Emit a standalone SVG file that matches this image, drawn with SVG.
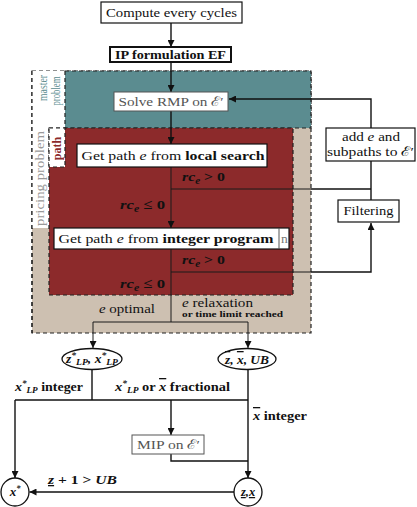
<svg xmlns="http://www.w3.org/2000/svg" width="417" height="507" viewBox="0 0 417 507" font-family="'Liberation Serif', 'DejaVu Serif', serif">
<style>
text{font-family:"Liberation Serif","DejaVu Serif",serif;fill:#111}
.t{font-size:13.5px}
.g{fill:#555}
.b{font-weight:bold}
.i{font-style:italic}
.bi{font-weight:bold;font-style:italic}
.box{fill:#fff;stroke:#111;stroke-width:1.2}
.gbox{fill:#fff;stroke:#555;stroke-width:1}
.dash{stroke:#222;stroke-width:1.2;stroke-dasharray:4 3}
.c{fill:none;stroke:#111;stroke-width:1.4}
.ci{fill:none;stroke:#1a1a1a;stroke-width:1}
.a{marker-end:url(#ah)}
.ov{text-decoration:overline}
.ul{text-decoration:underline}
.sup{font-size:8.5px}
</style>
<defs>
<marker id="ah" viewBox="0 0 10 10" refX="10" refY="5" markerWidth="7" markerHeight="7" markerUnits="userSpaceOnUse" orient="auto">
<path d="M0,0 L10,5 L0,10 z" fill="#111"/>
</marker>
</defs>

<g id="regions">
<rect x="32" y="71" width="279" height="262" fill="#cdc0b1" class="dash"/>
<rect x="32" y="71" width="17" height="157" fill="#fff"/>
<rect x="32" y="71" width="33" height="57" fill="#fff"/>
<rect x="65" y="71" width="246" height="57" fill="#5b8c90" class="dash"/>
<rect x="49" y="128" width="244" height="167" fill="#8c2a2b" class="dash"/>
<rect x="49" y="128" width="16" height="39" fill="#fff" class="dash"/>
<path d="M32,71 V333" class="dash" fill="none"/>
<text transform="translate(46.5,88) rotate(-90)" text-anchor="middle" style="font-size:12.5px;fill:#5b8c90" textLength="26" lengthAdjust="spacingAndGlyphs">master</text>
<text transform="translate(59.5,91) rotate(-90)" text-anchor="middle" style="font-size:12.5px;fill:#5b8c90" textLength="29" lengthAdjust="spacingAndGlyphs">problem</text>
<text transform="translate(43.5,178.5) rotate(-90)" text-anchor="middle" style="font-size:12px;fill:#999" textLength="95" lengthAdjust="spacingAndGlyphs">pricing problem</text>
<text transform="translate(60.5,148.5) rotate(-90)" text-anchor="middle" class="b" style="font-size:12px;fill:#8c2a2b">path</text>
</g>

<g id="connectors">
<path d="M171,23 V47" class="c a"/>
<path d="M171,62 V92" class="c a"/>
<path d="M171,111 V144" class="c a"/>
<path d="M171,167 V228" class="ci a"/>
<path d="M171,189 H311" class="ci"/>
<path d="M311,189 H371" class="c"/>
<path d="M371,128 V99 H229" class="c a"/>
<path d="M371,200 V161" class="c"/>
<path d="M171,249 V322" class="ci"/>
<path d="M171,272 H311" class="ci"/>
<path d="M311,272 H371 V223" class="c a"/>
<path d="M171,322 H93 V348" class="ci a"/>
<path d="M171,322 H248 V348" class="ci a"/>
<path d="M92,369.5 V400" class="c"/>
<path d="M15,400 H248" class="c"/>
<path d="M15,400 V478" class="c a"/>
<path d="M171,400 V435" class="c a"/>
<path d="M248,369.5 V478" class="c a"/>
<path d="M171,454 V461 H248" class="c"/>
<path d="M234,492 H29.5" class="c a"/>
</g>

<g id="n-compute"><rect x="101" y="2" width="141" height="21" class="box"/>
<text x="171.5" y="17" text-anchor="middle" class="t" textLength="131" lengthAdjust="spacingAndGlyphs">Compute every cycles</text></g>

<g id="n-ip"><rect x="110" y="47" width="121" height="15" fill="#fff" stroke="#111" stroke-width="2"/>
<text x="170.5" y="59" text-anchor="middle" class="t b" textLength="111" lengthAdjust="spacingAndGlyphs">IP formulation EF</text></g>

<g id="n-rmp"><rect x="114" y="92" width="114" height="19" class="gbox"/>
<text x="171" y="106" text-anchor="middle" class="t g" textLength="105" lengthAdjust="spacingAndGlyphs">Solve RMP on ℰ′</text></g>

<g id="n-local"><rect x="77" y="144" width="190" height="23" class="box"/>
<text x="173" y="160" text-anchor="middle" class="t" textLength="183" lengthAdjust="spacingAndGlyphs">Get path <tspan class="i">e</tspan> from <tspan class="b">local search</tspan></text></g>

<g id="n-intprog"><rect x="54" y="228" width="235" height="21" class="box"/>
<path d="M279,228 V249" stroke="#555" stroke-width="1"/>
<svg x="279" y="228" width="10" height="21"><text x="2" y="15" class="t" style="fill:#777">n</text></svg>
<text x="166" y="243" text-anchor="middle" class="t" textLength="215" lengthAdjust="spacingAndGlyphs">Get path <tspan class="i">e</tspan> from <tspan class="b">integer program</tspan></text></g>

<g id="n-add"><rect x="326" y="128" width="89" height="33" class="box"/>
<text x="371" y="141" text-anchor="middle" class="t" textLength="58" lengthAdjust="spacingAndGlyphs">add <tspan class="i">e</tspan> and</text>
<text x="370.5" y="156" text-anchor="middle" class="t" textLength="87" lengthAdjust="spacingAndGlyphs">subpaths to ℰ′</text></g>

<g id="n-filter"><rect x="338" y="200" width="61" height="22" class="box"/>
<text x="368.5" y="215" text-anchor="middle" class="t" textLength="50" lengthAdjust="spacingAndGlyphs">Filtering</text></g>

<g id="n-mip"><rect x="132" y="435" width="72" height="19" class="gbox"/>
<text x="168.5" y="449" text-anchor="middle" class="t g" textLength="63" lengthAdjust="spacingAndGlyphs">MIP on ℰ′</text></g>

<g id="n-lp"><ellipse cx="92" cy="359" rx="30" ry="10.5" fill="#fff" stroke="#111" stroke-width="1.3"/>
<text x="92" y="363" text-anchor="middle" class="bi" style="font-size:12px" textLength="52" lengthAdjust="spacingAndGlyphs">z<tspan dy="-5" class="sup">*</tspan><tspan dy="7" class="sup">LP</tspan><tspan dy="-2">, x</tspan><tspan dy="-5" class="sup">*</tspan><tspan dy="7" class="sup">LP</tspan></text></g>

<g id="n-ub"><ellipse cx="247" cy="359" rx="29" ry="10.5" fill="#fff" stroke="#111" stroke-width="1.3"/>
<text x="247" y="364" text-anchor="middle" class="bi" style="font-size:13px" textLength="44" lengthAdjust="spacingAndGlyphs"><tspan class="ov">z</tspan>, <tspan class="ov">x</tspan>, UB</text></g>

<g id="n-xstar"><circle cx="15" cy="492" r="14" fill="#fff" stroke="#111" stroke-width="1.3"/>
<text x="15" y="496" text-anchor="middle" class="bi" style="font-size:13px">x<tspan dy="-5" class="sup">*</tspan></text></g>

<g id="n-zx"><circle cx="248" cy="492" r="14" fill="#fff" stroke="#111" stroke-width="1.3"/>
<text x="248" y="496" text-anchor="middle" class="bi" style="font-size:12.5px"><tspan class="ul">z</tspan>,<tspan class="ul">x</tspan></text></g>

<g id="labels">
<text x="182" y="181" class="bi" style="font-size:13.5px" textLength="43" lengthAdjust="spacingAndGlyphs">rc<tspan dy="3" style="font-size:9.5px">e</tspan><tspan dy="-3" style="font-style:normal"> &gt; 0</tspan></text>
<text x="120" y="209" class="bi" style="font-size:13.5px" textLength="45" lengthAdjust="spacingAndGlyphs">rc<tspan dy="3" style="font-size:9.5px">e</tspan><tspan dy="-3" style="font-style:normal"> ≤ 0</tspan></text>
<text x="182" y="264" class="bi" style="font-size:13.5px" textLength="43" lengthAdjust="spacingAndGlyphs">rc<tspan dy="3" style="font-size:9.5px">e</tspan><tspan dy="-3" style="font-style:normal"> &gt; 0</tspan></text>
<text x="120" y="288" class="bi" style="font-size:13.5px" textLength="45" lengthAdjust="spacingAndGlyphs">rc<tspan dy="3" style="font-size:9.5px">e</tspan><tspan dy="-3" style="font-style:normal"> ≤ 0</tspan></text>
<text x="99" y="313" class="t" textLength="56" lengthAdjust="spacingAndGlyphs"><tspan class="i">e</tspan> optimal</text>
<text x="182" y="307" class="t" textLength="71" lengthAdjust="spacingAndGlyphs"><tspan class="i">e</tspan> relaxation</text>
<text x="182" y="317" class="b" style="font-size:8.5px" textLength="101" lengthAdjust="spacingAndGlyphs">or time limit reached</text>
<text x="15" y="391" class="b" style="font-size:13px" textLength="68" lengthAdjust="spacingAndGlyphs"><tspan class="i">x</tspan><tspan dy="-5" class="sup i">*</tspan><tspan dy="7" class="sup i">LP</tspan><tspan dy="-2"> integer</tspan></text>
<text x="115" y="391" class="b" style="font-size:13px" textLength="115" lengthAdjust="spacingAndGlyphs"><tspan class="i">x</tspan><tspan dy="-5" class="sup i">*</tspan><tspan dy="7" class="sup i">LP</tspan><tspan dy="-2"> or </tspan><tspan class="i ov">x</tspan> fractional</text>
<text x="253" y="420" class="b" style="font-size:13px" textLength="54" lengthAdjust="spacingAndGlyphs"><tspan class="i ov">x</tspan> integer</text>
<text x="48" y="484" class="b" style="font-size:13px" textLength="69" lengthAdjust="spacingAndGlyphs"><tspan class="i ul">z</tspan> + 1 &gt; <tspan class="i">UB</tspan></text>
</g>
</svg>
